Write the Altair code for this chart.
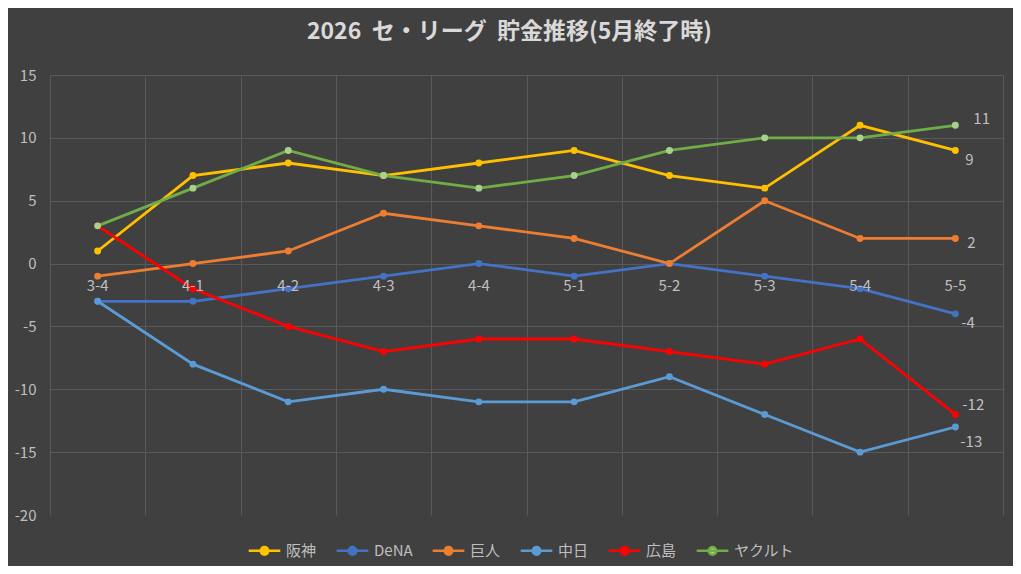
import altair as alt
import pandas as pd

categories = ["3-4", "4-1", "4-2", "4-3", "4-4", "5-1", "5-2", "5-3", "5-4", "5-5"]
teams = ["阪神", "DeNA", "巨人", "中日", "広島", "ヤクルト"]
hanshin = [1, 7, 8, 7, 8, 9, 7, 6, 11, 9]
dena = [-3, -3, -2, -1, 0, -1, 0, -1, -2, -4]
kyojin = [-1, 0, 1, 4, 3, 2, 0, 5, 2, 2]
chunichi = [-3, -8, -11, -10, -11, -11, -9, -12, -15, -13]
hiroshima = [3, -2, -5, -7, -6, -6, -7, -8, -6, -12]
yakult = [3, 6, 9, 7, 6, 7, 9, 10, 10, 11]
y_ticks = [-20, -15, -10, -5, 0, 5, 10, 15]

line_colors = ["#FFC000", "#4472C4", "#ED7D31", "#5B9BD5", "#FF0000", "#70AD47"]
marker_colors = ["#FFC000", "#4472C4", "#ED7D31", "#5B9BD5", "#FF0000", "#A9D18E"]

series = dict(zip(teams, [hanshin, dena, kyojin, chunichi, hiroshima, yakult]))
rows = []
for t in teams:
    for c, v in zip(categories, series[t]):
        rows.append({"節": c, "球団": t, "貯金": v, "表示": str(v)})
df = pd.DataFrame(rows)
cat_df = pd.DataFrame({"節": categories})

FONT = "Noto Sans CJK JP"
LABEL = "#BFBFBF"
GRID = "#595959"

x_enc = alt.X(
    "節:N", sort=categories,
    scale=alt.Scale(type="band", paddingInner=0, paddingOuter=0),
    axis=alt.Axis(title=None, grid=True, tickBand="extent", domain=False, ticks=False,
                  labels=False, gridColor=GRID, gridWidth=1),
)
y_enc = alt.Y(
    "貯金:Q",
    scale=alt.Scale(domain=[-20, 15], nice=False, zero=False),
    axis=alt.Axis(title=None, values=y_ticks, domain=False, ticks=False,
                  labelColor=LABEL, labelFontSize=15, labelFont=FONT, labelPadding=14,
                  labelExpr="'' + datum.value",
                  gridColor=GRID, gridWidth=1,
                  gridOpacity=alt.ExprRef("datum.value == -20 ? 0 : 1")),
)

sym_path = ("M-1,0L1,0M-0.24,0A0.24,0.24,0,1,1,0.24,0A0.24,0.24,0,1,1,-0.24,0Z")
legend_kw = dict(title=None, orient="none", legendX=197, legendY=458, direction="horizontal",
                 symbolType=sym_path, symbolSize=1000, symbolStrokeWidth=2.5,
                 labelColor=LABEL, labelFontSize=15, labelFont=FONT, columnPadding=14,
                 labelOffset=4)

lines = alt.Chart(df).mark_line(strokeWidth=2.8).encode(
    x=x_enc, y=y_enc,
    stroke=alt.Stroke("球団:N", scale=alt.Scale(domain=teams, range=line_colors),
                      legend=alt.Legend(**legend_kw)),
)
points = alt.Chart(df).mark_point(filled=True, size=48, opacity=1).encode(
    x=x_enc, y=y_enc,
    fill=alt.Fill("球団:N", scale=alt.Scale(domain=teams, range=marker_colors),
                  legend=alt.Legend(**legend_kw)),
)

cat_labels = alt.Chart(cat_df).mark_text(
    baseline="middle", align="center", dy=22, fontSize=15, font=FONT, color=LABEL
).encode(x=alt.X("節:N", sort=categories), y=alt.datum(0), text="節:N")

label_offsets = {"阪神": (10, 10), "DeNA": (6, 9), "巨人": (12, 5),
                 "中日": (5, 15), "広島": (7, -9), "ヤクルト": (18, -6)}
last = df[df["節"] == categories[-1]]
end_labels = []
for t in teams:
    dx, dy = label_offsets[t]
    end_labels.append(
        alt.Chart(last[last["球団"] == t]).mark_text(
            align="left", baseline="middle", dx=dx, dy=dy,
            fontSize=15, font=FONT, color=LABEL
        ).encode(x=x_enc, y=y_enc, text=alt.Text("表示:N"))
    )

chart = alt.layer(lines, points, cat_labels, *end_labels).properties(
    width=953, height=440,
    padding={"left": 42, "top": 67, "right": 10, "bottom": 51},
    autosize=alt.AutoSizeParams(type="none"),
    background="#404040",
    title=alt.TitleParams("2026\u00a0\u00a0セ・リーグ\u00a0\u00a0貯金推移(5月終了時)", fontSize=23,
                          fontWeight="bold", color="#D9D9D9", font=FONT, anchor="middle",
                          offset=24, dx=-17),
).configure_view(stroke=None)

chart.save("out.html", embed_options={"renderer": "svg", "actions": False})
